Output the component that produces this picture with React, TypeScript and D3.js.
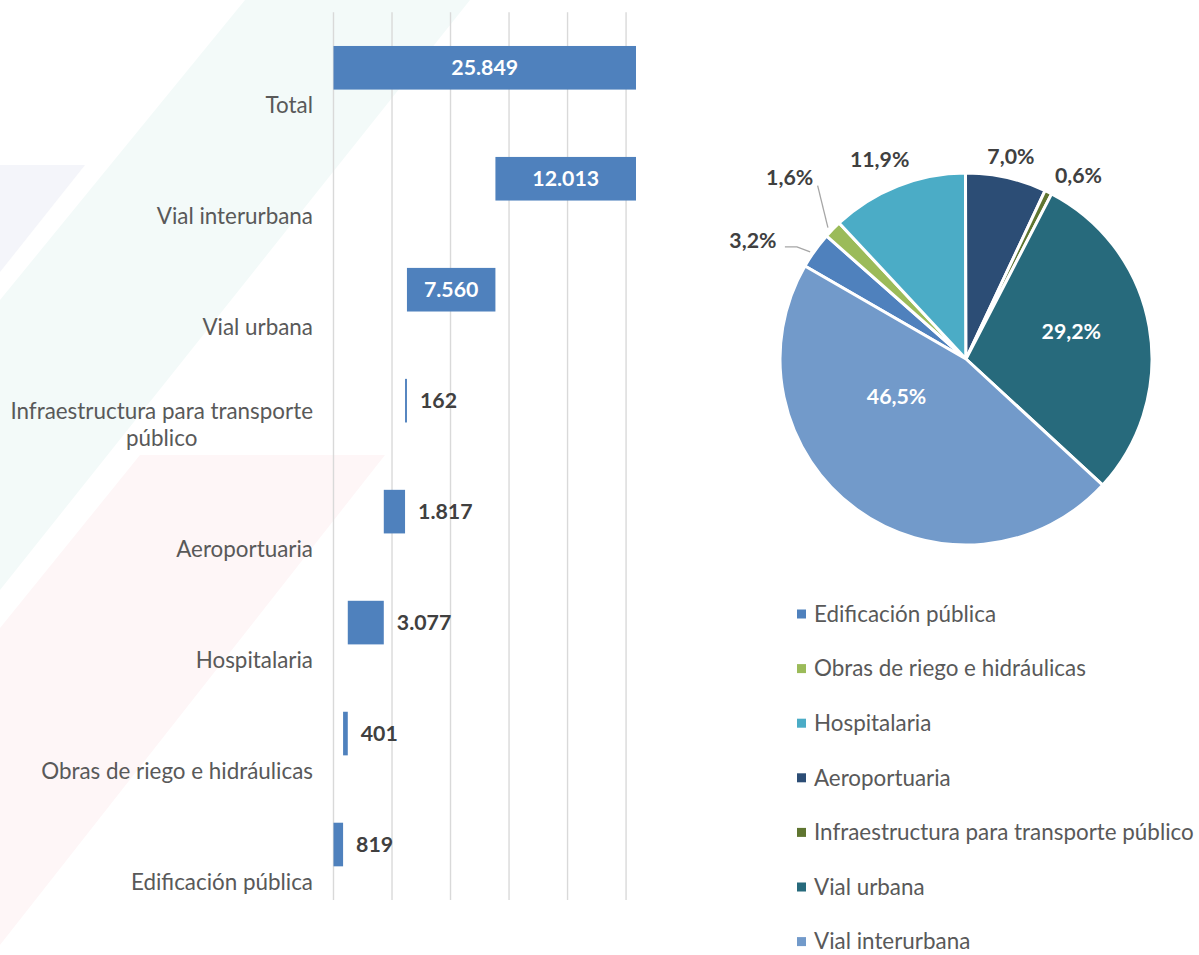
import React from 'react';
import * as d3 from 'd3';

// ---------- data ----------
const components = [
  'Edificación pública',
  'Obras de riego e hidráulicas',
  'Hospitalaria',
  'Aeroportuaria',
  'Infraestructura para transporte público',
  'Vial urbana',
  'Vial interurbana',
];
const amounts = [819, 401, 3077, 1817, 162, 7560, 12013];
const totalName = 'Total';
const totalAmount = 25849;
const gridTicks = [0, 5000, 10000, 15000, 20000, 25000];
const pieColors = ['#4F81BD', '#9BBB59', '#4BACC6', '#2C4D75', '#5F7530', '#276A7C', '#729ACA'];
const pieFirstSliceDeg = 300;

// ---------- layout / style ----------
const W = 1199;
const H = 955;
const FONT = 'Lato, Calibri, Carlito, sans-serif';
const AXIS_SIZE = 22.4;
const VALUE_SIZE = 21.3;
const BAR = '#4F81BD';
const AXIS_TEXT = '#595959';
const LABEL_TEXT = '#404040';
const plotTop = 12.3;
const plotBottom = 900;
const xStart = 333.5;
const xEnd = 636;
const labelRight = 313;
const pieCx = 966;
const pieCy = 359;
const pieR = 186;
const legendTop = 614;
const legendStep = 54.6;
// label placement (angle offset in degrees from slice mid, radial distance as factor of radius)
const pieLabelPlacement = [
  { dAngle: -6.7, dist: 1.31, leader: 'elbow' },
  { dAngle: 1.6, dist: 1.36, leader: 'straight' },
  { dAngle: -1.8, dist: 1.17, leader: 'none' },
  { dAngle: 0, dist: 1.115, leader: 'none' },
  { dAngle: 5.3, dist: 1.155, leader: 'none' },
  { dAngle: -4.6, dist: 0.585, leader: 'none' },
  { dAngle: 25.1, dist: 0.425, leader: 'none' },
];

const locale = d3.formatLocale({ decimal: ',', thousands: '.', grouping: [3], currency: ['', ''] });
const fmtNum = locale.format(',.0f');
const fmtPct = locale.format('.1%');

let ctx: CanvasRenderingContext2D | null = null;
function measure(text: string, size: number, weight = 'normal'): number {
  if (!ctx) ctx = document.createElement('canvas').getContext('2d');
  if (!ctx) return text.length * size * 0.5;
  ctx.font = `${weight} ${size}px Lato`;
  return ctx.measureText(text).width;
}

function wrapWords(text: string, maxChars: number): string[] {
  const words = text.split(' ');
  const lines: string[] = [];
  let cur = '';
  for (const w of words) {
    const t = cur ? cur + ' ' + w : w;
    if (t.length > maxChars && cur) {
      lines.push(cur);
      cur = w;
    } else cur = t;
  }
  if (cur) lines.push(cur);
  return lines;
}

export default function App() {
  // waterfall
  const starts: number[] = [];
  let acc = 0;
  amounts.forEach((a) => {
    starts.push(acc);
    acc += a;
  });
  const rows = [
    { name: totalName, start: 0, value: totalAmount },
    ...components.map((c, i) => ({ name: c, start: starts[i], value: amounts[i] })).reverse(),
  ];

  const x = d3.scaleLinear().domain([0, totalAmount]).range([xStart, xEnd]);
  const y = d3
    .scaleBand<string>()
    .domain(rows.map((r) => r.name))
    .range([plotTop, plotBottom])
    .paddingInner(0.607)
    .paddingOuter(0.3035);
  const bw = y.bandwidth();

  // pie
  const total = d3.sum(amounts);
  const start = (pieFirstSliceDeg * Math.PI) / 180 - 2 * Math.PI;
  const pie = d3
    .pie<number>()
    .sort(null)
    .value((d) => d)
    .startAngle(start)
    .endAngle(start + 2 * Math.PI);
  const arcs = pie(amounts);
  const arcGen = d3.arc<d3.PieArcDatum<number>>().innerRadius(0).outerRadius(pieR);

  const polar = (ang: number, r: number) => [pieCx + Math.sin(ang) * r, pieCy - Math.cos(ang) * r];

  return (
    <svg
      width={W}
      height={H}
      style={{ position: 'absolute', left: 0, top: 0, background: '#fff' }}
      fontFamily={FONT}
    >
      {/* faint background decoration */}
      <polygon points="245,0 470,0 0,590 0,300" fill="#F3FAF9" />
      <polygon points="0,165 85,165 0,272" fill="#F4F5FA" />
      <polygon points="140,455 385,455 0,945 0,628" fill="#FEF6F7" />

      {/* gridlines */}
      {gridTicks.map((t) => (
        <line
          key={t}
          x1={x(t)}
          x2={x(t)}
          y1={plotTop}
          y2={plotBottom}
          stroke="#D9D9D9"
          strokeWidth={1.4}
        />
      ))}

      {/* bars */}
      {rows.map((r) => {
        const y0 = y(r.name)!;
        const x0 = x(r.start);
        const x1 = x(r.start + r.value);
        const w = Math.max(1.6, x1 - x0);
        const cy = y0 + bw / 2;
        const inside = x1 - x0 > 75;
        return (
          <g key={r.name}>
            <rect x={x0} y={y0} width={w} height={bw} fill={BAR} />
            <text
              x={inside ? (x0 + x1) / 2 : x0 + w + 13}
              y={cy}
              dy="0.35em"
              textAnchor={inside ? 'middle' : 'start'}
              fontWeight="bold"
              fontSize={VALUE_SIZE}
              fill={inside ? '#fff' : LABEL_TEXT}
            >
              {fmtNum(r.value)}
            </text>
          </g>
        );
      })}

      {/* category labels */}
      {rows.map((r) => {
        const lines = wrapWords(r.name, 31);
        const center = y(r.name)! + bw / 2;
        const lastBase = center + 45.7;
        const lh = 27.4;
        const blockW = d3.max(lines, (l) => measure(l, AXIS_SIZE)) ?? 0;
        return (
          <text key={r.name} textAnchor="middle" fontSize={AXIS_SIZE} fill={AXIS_TEXT}>
            {lines.map((l, i) => (
              <tspan key={i} x={labelRight - blockW / 2} y={lastBase - (lines.length - 1 - i) * lh}>
                {l}
              </tspan>
            ))}
          </text>
        );
      })}

      {/* pie */}
      <g transform={`translate(${pieCx},${pieCy})`}>
        {arcs.map((a, i) => (
          <path key={i} d={arcGen(a)!} fill={pieColors[i]} stroke="#fff" strokeWidth={3} strokeLinejoin="round" />
        ))}
      </g>
      {arcs.map((a, i) => {
        const pl = pieLabelPlacement[i];
        const mid = (a.startAngle + a.endAngle) / 2;
        const ang = mid + (pl.dAngle * Math.PI) / 180;
        const [lx, ly] = polar(ang, pl.dist * pieR);
        const inside = pl.dist < 1;
        const label = fmtPct(amounts[i] / total);
        const [ex, ey] = polar(mid, pieR + 1);
        let leader: React.ReactNode = null;
        if (pl.leader === 'elbow') {
          const sx = lx + 32;
          leader = (
            <polyline
              points={`${sx},${ly + 6} ${sx + 12},${ly + 6} ${ex - 4},${ey + 2}`}
              fill="none"
              stroke="#A6A6A6"
              strokeWidth={1.3}
            />
          );
        } else if (pl.leader === 'straight') {
          leader = (
            <line x1={lx + 28} y1={ly + 8} x2={ex - 4} y2={ey - 1} stroke="#A6A6A6" strokeWidth={1.3} />
          );
        }
        return (
          <g key={'l' + i}>
            {leader}
            <text
              x={lx}
              y={ly}
              dy="0.35em"
              textAnchor="middle"
              fontWeight="bold"
              fontSize={VALUE_SIZE}
              fill={inside ? '#fff' : LABEL_TEXT}
            >
              {label}
            </text>
          </g>
        );
      })}

      {/* legend */}
      {components.map((c, i) => {
        const cy = legendTop + i * legendStep;
        return (
          <g key={c}>
            <rect x={797} y={cy - 4.5} width={9} height={9} fill={pieColors[i]} />
            <text x={814} y={cy} dy="0.35em" fontSize={AXIS_SIZE} fill={AXIS_TEXT}>
              {c}
            </text>
          </g>
        );
      })}
    </svg>
  );
}
